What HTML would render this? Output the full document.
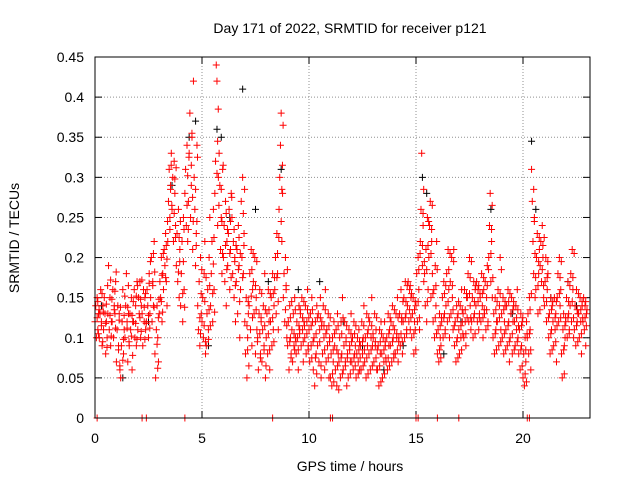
<!DOCTYPE html>
<html><head><meta charset="utf-8"><style>
html,body{margin:0;padding:0;background:#fff;}
svg{display:block;font-family:"Liberation Sans",sans-serif;}
</style></head><body>
<svg id="chart" width="640" height="480" viewBox="0 0 640 480">
<rect width="640" height="480" fill="#fff"/>
<text x="350" y="33" font-size="14" text-anchor="middle">Day 171 of 2022, SRMTID for receiver p121</text>
<text x="350" y="471" font-size="14" text-anchor="middle">GPS time / hours</text>
<text transform="translate(19,238) rotate(-90)" font-size="14" text-anchor="middle">SRMTID / TECUs</text>
<g id="grid"></g><g id="ticks"></g><g id="marks"></g>
<rect x="95" y="57" width="495" height="361" fill="none" stroke="#000"/>
</svg>
<script>
const xTicks=[0,5,10,15,20];
const yTicks=[0,0.05,0.1,0.15,0.2,0.25,0.3,0.35,0.4,0.45];
const yTickLabels=["0","0.05","0.1","0.15","0.2","0.25","0.3","0.35","0.4","0.45"];
const slotTimes=[0.0,0.2,0.4,0.6,0.8,1.0,1.2,1.4,1.6,1.8,2.0,2.2,2.4,2.6,2.8,3.0,3.2,3.4,3.6,3.8,4.0,4.2,4.4,4.6,4.8,5.0,5.2,5.4,5.6,5.8,6.0,6.2,6.4,6.6,6.8,7.0,7.2,7.4,7.6,7.8,8.0,8.2,8.4,8.6,8.8,9.0,9.2,9.4,9.6,9.8,10.0,10.2,10.4,10.6,10.8,11.0,11.2,11.4,11.6,11.8,12.0,12.2,12.4,12.6,12.8,13.0,13.2,13.4,13.6,13.8,14.0,14.2,14.4,14.6,14.8,15.0,15.2,15.4,15.6,15.8,16.0,16.2,16.4,16.6,16.8,17.0,17.2,17.4,17.6,17.8,18.0,18.2,18.4,18.6,18.8,19.0,19.2,19.4,19.6,19.8,20.0,20.2,20.4,20.6,20.8,21.0,21.2,21.4,21.6,21.8,22.0,22.2,22.4,22.6,22.8];
const redValues=[
[.12,.14,.10,.15,.11,.13],[.10,.13,.16,.12,.09,.14],[.11,.15,.13,.08,.12,.10],[.13,.19,.11,.15,.09,.12],[.12,.16,.10,.14,.13,.17],
[.07,.11,.14,.09,.13,.06],[.05,.09,.12,.16,.08,.11],[.10,.14,.18,.12,.07,.13],[.09,.13,.11,.15,.06,.12],[.12,.16,.10,.14,.09,.17],
[.11,.15,.13,.17,.10,.14],[.13,.09,.16,.12,.15,.11],[.12,.16,.14,.10,.18,.13],[.15,.20,.12,.17,.14,.22],[.08,.05,.11,.14,.10,.07],
[.13,.17,.15,.20,.12,.18],[.16,.21,.19,.23,.17,.14],[.22,.27,.31,.25,.29,.33],[.26,.30,.22,.32,.28,.24],[.19,.23,.17,.26,.15,.21],
[.14,.18,.22,.12,.25,.16],[.28,.31,.24,.34,.22,.27],[.33,.38,.25,.29,.35,.21],[.42,.30,.26,.19,.23,.34],[.14,.11,.17,.09,.20,.13],
[.12,.15,.10,.18,.22,.08],[.09,.13,.16,.11,.20,.25],[.14,.18,.22,.12,.26,.16],[.28,.32,.44,.42,.24,.30],[.33,.29,.21,.25,.18,.31],
[.20,.24,.17,.27,.14,.22],[.19,.23,.26,.16,.21,.28],[.25,.18,.22,.15,.20,.12],[.17,.21,.13,.24,.19,.10],[.16,.27,.20,.30,.18,.23],
[.12,.08,.15,.05,.10,.13],[.14,.18,.11,.21,.09,.16],[.17,.13,.20,.08,.15,.11],[.10,.06,.13,.16,.08,.12],[.07,.11,.14,.09,.18,.05],
[.10,.13,.08,.16,.12,.06],[.12,.15,.09,.18,.11,.14],[.16,.20,.13,.23,.18,.11],[.26,.30,.34,.38,.22,.28],[.15,.18,.12,.20,.16,.10],
[.09,.12,.06,.14,.10,.08],[.11,.07,.13,.09,.15,.10],[.08,.12,.10,.06,.14,.11],[.13,.09,.15,.11,.07,.12],[.10,.14,.08,.12,.16,.09],
[.11,.07,.13,.09,.15,.12],[.06,.10,.04,.12,.08,.14],[.09,.13,.07,.11,.15,.05],[.12,.08,.14,.10,.06,.16],[.07,.11,.09,.13,.05,.10],
[.05,.08,.04,.10,.07,.12],[.09,.06,.11,.04,.13,.08],[.07,.10,.05,.12,.08,.15],[.06,.09,.12,.07,.10,.04],[.08,.05,.11,.09,.07,.13],
[.07,.10,.06,.12,.08,.09],[.05,.08,.10,.07,.11,.06],[.09,.06,.12,.08,.10,.14],[.07,.10,.05,.13,.09,.11],[.08,.12,.06,.10,.15,.09],
[.10,.07,.13,.09,.11,.06],[.06,.09,.04,.11,.08,.12],[.08,.05,.10,.07,.12,.09],[.07,.10,.06,.13,.09,.11],[.09,.12,.07,.14,.10,.08],
[.11,.08,.13,.10,.15,.07],[.10,.13,.09,.16,.12,.08],[.12,.15,.10,.17,.13,.11],[.14,.17,.12,.16,.11,.15],[.10,.13,.15,.08,.12,.11],
[.14,.18,.12,.20,.16,.11],[.22,.26,.33,.19,.24,.17],[.18,.14,.21,.12,.25,.16],[.20,.24,.27,.15,.22,.18],[.12,.16,.10,.19,.14,.22],
[.08,.11,.07,.13,.10,.09],[.12,.15,.10,.17,.13,.11],[.14,.18,.12,.21,.16,.10],[.17,.13,.20,.15,.11,.21],[.09,.12,.07,.14,.10,.13],
[.11,.08,.14,.10,.16,.12],[.13,.10,.16,.12,.09,.15],[.15,.18,.12,.20,.14,.11],[.12,.15,.10,.17,.13,.16],[.14,.17,.12,.16,.11,.13],
[.15,.12,.18,.14,.10,.16],[.13,.17,.11,.15,.19,.12],[.20,.24,.28,.17,.22,.15],[.10,.13,.08,.15,.11,.12],[.12,.16,.09,.14,.20,.11],
[.13,.10,.15,.08,.12,.14],[.11,.14,.09,.16,.12,.07],[.10,.13,.15,.08,.12,.14],[.12,.09,.14,.11,.16,.10],[.08,.11,.06,.13,.09,.12],
[.05,.08,.04,.10,.07,.12],[.10,.13,.08,.15,.11,.06],[.31,.27,.22,.18,.25,.15],[.16,.20,.23,.13,.18,.21],[.19,.22,.17,.24,.20,.15],
[.14,.17,.20,.12,.16,.18],[.10,.13,.08,.15,.11,.14],[.12,.09,.15,.11,.13,.07],[.15,.18,.12,.20,.14,.16],[.08,.05,.11,.13,.09,.10],
[.12,.15,.10,.17,.13,.11],[.14,.18,.12,.21,.16,.10],[.11,.14,.09,.16,.12,.13],[.13,.10,.15,.12,.08,.14],[.12,.15,.11,.14,.09,.13]];
const redValues2=[
[.125,.145,.105,.135],[.115,.155,.095,.132],[.118,.142,.088,.165],[.128,.172,.102,.148],[.135,.158,.112,.182],
[.085,.122,.065,.138],[.072,.098,.128,.152],[.112,.138,.165,.095],[.102,.128,.078,.145],[.118,.152,.098,.165],
[.125,.148,.108,.172],[.138,.098,.155,.118],[.128,.168,.112,.195],[.165,.205,.138,.182],[.092,.062,.125,.148],
[.145,.178,.132,.205],[.175,.215,.198,.245],[.235,.285,.315,.265],[.255,.298,.225,.312],[.182,.225,.195,.245],
[.155,.195,.235,.138],[.265,.302,.235,.325],[.315,.355,.275,.245],[.285,.215,.245,.325],[.125,.105,.155,.185],
[.115,.145,.095,.175],[.098,.135,.165,.115],[.155,.192,.225,.132],[.305,.345,.385,.265],[.285,.245,.205,.315],
[.215,.255,.185,.235],[.205,.245,.175,.275],[.235,.195,.165,.215],[.185,.225,.145,.205],[.175,.255,.215,.285],
[.115,.085,.145,.065],[.152,.185,.125,.205],[.165,.135,.195,.095],[.105,.075,.125,.155],[.085,.115,.135,.065],
[.105,.135,.085,.155],[.125,.155,.095,.175],[.175,.205,.145,.225],[.245,.285,.315,.365],[.135,.165,.115,.185],
[.095,.125,.075,.145],[.105,.085,.135,.095],[.085,.115,.105,.135],[.125,.095,.145,.115],[.105,.135,.085,.125],
[.115,.075,.135,.095],[.075,.105,.055,.125],[.095,.125,.065,.115],[.115,.085,.135,.105],[.075,.115,.095,.125],
[.055,.085,.045,.105],[.085,.065,.115,.035],[.075,.105,.055,.125],[.065,.095,.115,.075],[.085,.055,.105,.095],
[.075,.105,.065,.115],[.055,.085,.095,.075],[.095,.065,.115,.085],[.075,.105,.055,.125],[.085,.115,.065,.105],
[.095,.075,.125,.085],[.065,.095,.045,.105],[.085,.055,.095,.075],[.075,.105,.065,.125],[.095,.115,.075,.135],
[.105,.085,.125,.095],[.105,.125,.095,.145],[.125,.145,.105,.165],[.135,.165,.125,.155],[.105,.135,.145,.085],
[.145,.185,.125,.205],[.215,.255,.285,.195],[.185,.145,.215,.245],[.205,.235,.265,.155],[.125,.165,.105,.185],
[.085,.115,.075,.125],[.125,.155,.105,.165],[.145,.185,.125,.205],[.165,.135,.195,.115],[.095,.125,.075,.145],
[.115,.085,.135,.105],[.135,.105,.155,.125],[.155,.175,.125,.195],[.125,.145,.105,.165],[.145,.165,.125,.155],
[.155,.125,.175,.135],[.135,.165,.115,.185],[.205,.235,.265,.175],[.105,.135,.085,.145],[.125,.155,.095,.185],
[.135,.105,.145,.085],[.115,.145,.095,.155],[.105,.135,.145,.085],[.125,.095,.135,.115],[.085,.115,.065,.125],
[.055,.085,.045,.105],[.105,.135,.085,.155],[.285,.245,.205,.175],[.165,.195,.225,.135],[.185,.215,.165,.225],
[.145,.175,.195,.125],[.105,.135,.085,.145],[.125,.095,.145,.115],[.155,.175,.125,.195],[.085,.055,.115,.125],
[.125,.145,.105,.165],[.145,.175,.125,.205],[.115,.135,.095,.155],[.135,.105,.145,.125],[.125,.145,.115,.135]];
const blackTimes=[0.3,1.3,2.5,3.6,4.4,4.7,5.3,5.7,5.9,6.3,6.9,7.5,8.1,8.7,9.5,10.5,11.6,12.5,13.5,14.4,15.3,15.5,16.3,17.1,18.5,19.5,20.4,20.6,21.3,22.1,22.5];
const blackValues=[.14,.05,.12,.29,.35,.37,.09,.36,.35,.25,.41,.26,.17,.31,.16,.17,.12,.09,.06,.09,.30,.28,.08,.12,.26,.13,.345,.26,.15,.17,.14];
const zeroTimes=[0.1,2.2,2.4,4.2,8.3,11.0,11.1,15.0,15.1,16.0,17.0,20.2,20.3];

const X=t=>95+t*21.4;
const Y=v=>418-v*802.2;
const NS="http://www.w3.org/2000/svg";
const grid=document.getElementById('grid'),ticks=document.getElementById('ticks'),marks=document.getElementById('marks');
function mk(tag,attrs,parent){const e=document.createElementNS(NS,tag);for(const k in attrs)e.setAttribute(k,attrs[k]);parent.appendChild(e);return e;}
xTicks.forEach(t=>{
  const x=X(t);
  if(t>0){const g=mk('line',{x1:x,x2:x,y1:57,y2:418,stroke:'#909090','stroke-dasharray':'1,2'},grid);
  
  }
  mk('line',{x1:x,x2:x,y1:418,y2:411,stroke:'#000'},ticks);
  mk('line',{x1:x,x2:x,y1:57,y2:64,stroke:'#000'},ticks);
  const l=mk('text',{x:x,y:443,'font-size':14,'text-anchor':'middle'},ticks);l.textContent=t;
  
  
});
yTicks.forEach((v,i)=>{
  const y=Y(v);
  if(i>0&&i<yTicks.length-1){const g=mk('line',{x1:95,x2:590,y1:y,y2:y,stroke:'#909090','stroke-dasharray':'1,2'},grid);
  
  }
  mk('line',{x1:95,x2:102,y1:y,y2:y,stroke:'#000'},ticks);
  mk('line',{x1:583,x2:590,y1:y,y2:y,stroke:'#000'},ticks);
  const l=mk('text',{x:84,y:y+5,'font-size':14,'text-anchor':'end'},ticks);l.textContent=yTickLabels[i];
  
  
});
function plus(t,v,color,name){
  const x=X(t),y=Y(v);
  const p=mk('path',{d:`M${x-3.5},${y}h7M${x},${y-3.5}v7`,stroke:color,'stroke-width':1,fill:'none'},marks);
  
  
}
blackTimes.forEach((t,i)=>plus(t,blackValues[i],'#000','black-point'));
slotTimes.forEach((t,i)=>redValues[i].forEach((v,j)=>plus(t+j*0.033,v,'#ff0000','red-point')));
slotTimes.forEach((t,i)=>redValues2[i].forEach((v,j)=>plus(t+0.1+j*0.03,v,'#ff0000','red-point')));
zeroTimes.forEach(t=>plus(t,0,'#ff0000','zero-point'));
</script>
</body></html>
